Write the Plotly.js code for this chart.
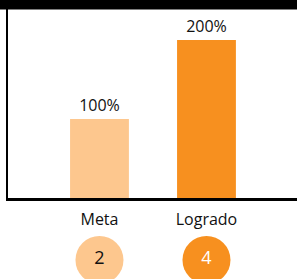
<!DOCTYPE html>
<html><head><meta charset="utf-8">
<script src="https://cdn.plot.ly/plotly-3.0.1.min.js"></script>
<style>html,body{margin:0;padding:0;background:#fff}#chart{width:297px;height:279px}</style>
</head><body><div id="chart"></div>
<script>
const categories = ["Meta", "Logrado"];
const percentValues = [100, 200];
const percentLabels = ["100%", "200%"];
const counts = [2, 4];
const barColors = ["#FDC78E", "#F7901F"];
const countTextColors = ["#111111", "#FFFFFF"];

const W = 297, H = 279;
const axisBottomPx = 198, axisLeftPx = 8;
const pxPerUnit = 0.79;

const data = [
  {
    type: "bar", x: categories, y: percentValues,
    text: percentLabels, textposition: "outside", cliponaxis: false,
    textfont: {family: "Open Sans, sans-serif", size: 16, color: "#111"},
    marker: {color: barColors}, width: 0.55, hoverinfo: "none",
    xaxis: "x", yaxis: "y"
  },
  {
    type: "scatter", mode: "markers+text", x: categories, y: [0.5, 0.5],
    text: counts.map(String), textposition: "middle center",
    textfont: {family: "Open Sans, sans-serif", size: 18, color: countTextColors},
    marker: {color: barColors, size: 48, line: {width: 0}},
    cliponaxis: false, hoverinfo: "none",
    xaxis: "x2", yaxis: "y2"
  }
];

const layout = {
  width: W, height: H,
  margin: {l: 0, r: 0, t: 0, b: 0},
  paper_bgcolor: "#fff", plot_bgcolor: "rgba(0,0,0,0)",
  showlegend: false,
  font: {family: "Open Sans, sans-serif"},
  xaxis: {
    domain: [axisLeftPx / W, 1], anchor: "y",
    range: [-0.855, 1.846], type: "category",
    showline: true, linecolor: "#000", linewidth: 2.5,
    showgrid: false, zeroline: false, ticks: "",
    tickfont: {family: "Open Sans, sans-serif", size: 16, color: "#111"},
    ticklabelstandoff: 5
  },
  yaxis: {
    domain: [(H - axisBottomPx) / H, 1], anchor: "x",
    range: [0, axisBottomPx / pxPerUnit],
    showline: true, linecolor: "#000", linewidth: 2.5,
    showgrid: false, zeroline: false, showticklabels: false, ticks: ""
  },
  xaxis2: {
    domain: [axisLeftPx / W, 1], anchor: "y2", matches: "x",
    range: [-0.855, 1.846], type: "category",
    visible: false
  },
  yaxis2: {
    domain: [0, 40 / H], anchor: "x2", range: [0, 1.05], visible: false
  },
  shapes: [
    {type: "rect", xref: "paper", yref: "paper", x0: 0, x1: 1,
     y0: 1 - 9.5 / H, y1: 1, fillcolor: "#000", line: {width: 0}, layer: "above"}
  ]
};

Plotly.newPlot("chart", data, layout, {displayModeBar: false, staticPlot: true});
</script></body></html>
